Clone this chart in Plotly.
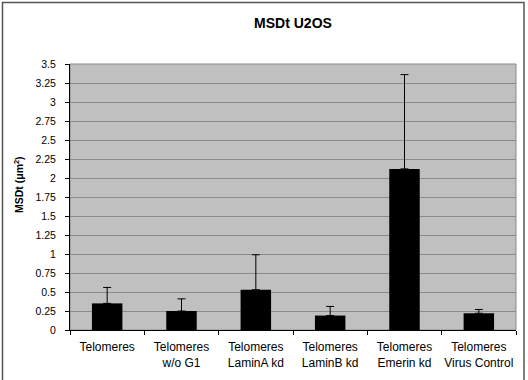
import plotly.graph_objects as go

categories = ["Telomeres", "Telomeres<br>w/o G1", "Telomeres<br>LaminA kd",
              "Telomeres<br>LaminB kd", "Telomeres<br>Emerin kd", "Telomeres<br>Virus Control"]
msd_values = [0.35, 0.25, 0.53, 0.19, 2.12, 0.22]
msd_errors = [0.21, 0.16, 0.46, 0.12, 1.24, 0.05]
y_ticks = [0, 0.25, 0.5, 0.75, 1, 1.25, 1.5, 1.75, 2, 2.25, 2.5, 2.75, 3, 3.25, 3.5]
y_ticklabels = ["0", "0.25", "0.5", "0.75", "1", "1.25", "1.5", "1.75", "2", "2.25",
                "2.5", "2.75", "3", "3.25", "3.5"]

FONT = "Liberation Sans, Arial, sans-serif"

fig = go.Figure()
fig.add_trace(go.Bar(
    x=categories, y=msd_values,
    marker=dict(color="black", line=dict(color="black", width=0)),
    error_y=dict(type="data", array=msd_errors, symmetric=False, arrayminus=[0]*6,
                 color="black", thickness=1, width=4, visible=True),
    width=0.41,
))

L, R, T, B = 70, 12, 64, 50
W, H = 528, 380
pw, ph = W - L - R, H - T - B

fig.update_layout(
    width=W, height=H,
    margin=dict(l=L, r=R, t=T, b=B),
    paper_bgcolor="white", plot_bgcolor="#c0c0c0",
    showlegend=False,
    font=dict(family=FONT, color="black"),
    title=dict(text="<b>MSDt U2OS</b>", x=0.5, xref="paper", xanchor="center",
               y=1 - 23 / H, yref="container", yanchor="middle",
               font=dict(size=14, family=FONT, color="black")),
    xaxis=dict(
        showgrid=False, tickson="boundaries", ticks="outside", ticklen=4,
        tickcolor="black", showline=True, linecolor="black", linewidth=1,
        tickfont=dict(size=12, family=FONT, color="black"),
        tickangle=0, automargin=False, ticklabelstandoff=6,
        range=[-0.5, 5.5],
    ),
    yaxis=dict(
        range=[0, 3.5], tickvals=y_ticks, ticktext=y_ticklabels,
        showgrid=True, gridcolor="#8a8a8a", gridwidth=1,
        ticks="outside", ticklen=4, tickcolor="black",
        showline=True, linecolor="black", linewidth=1,
        zeroline=False, automargin=False, ticklabelstandoff=7,
        tickfont=dict(size=10.5, family=FONT, color="black"),
    ),
    annotations=[
        dict(text="<b>MSDt (μm<sup>2</sup>)</b>", textangle=-90,
             xref="paper", yref="paper", x=(18 - L) / pw, y=(H - B - 185) / ph,
             xanchor="center", yanchor="middle", showarrow=False,
             font=dict(size=10.5, family=FONT, color="black")),
    ],
    shapes=[
        dict(type="rect", xref="paper", yref="paper", x0=0, x1=1, y0=0, y1=1,
             line=dict(color="#8a8a8a", width=1), layer="below"),
        dict(type="rect", xref="paper", yref="paper",
             x0=(2.5 - L) / pw, x1=(524 - L) / pw,
             y0=(H - B - 400) / ph, y1=(H - B - 2.5) / ph,
             line=dict(color="#555555", width=1.5)),
    ],
)

fig.write_html("out.html")
